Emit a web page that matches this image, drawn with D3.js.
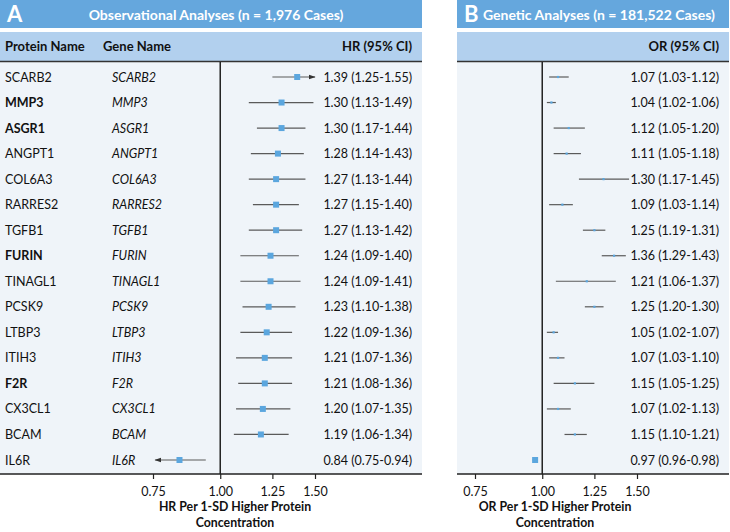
<!DOCTYPE html>
<html><head><meta charset="utf-8">
<script src="https://cdn.jsdelivr.net/npm/d3@7"></script>
<style>
html,body{margin:0;padding:0;background:#fff;}
svg{display:block;font-family:Lato,"Noto Sans",sans-serif;}
</style></head>
<body><svg id="c" width="730" height="532"></svg>
<script>
const proteins = ["SCARB2","MMP3","ASGR1","ANGPT1","COL6A3","RARRES2","TGFB1","FURIN","TINAGL1","PCSK9","LTBP3","ITIH3","F2R","CX3CL1","BCAM","IL6R"];
const genes = ["SCARB2","MMP3","ASGR1","ANGPT1","COL6A3","RARRES2","TGFB1","FURIN","TINAGL1","PCSK9","LTBP3","ITIH3","F2R","CX3CL1","BCAM","IL6R"];
const boldProteins = ["MMP3","ASGR1","FURIN","F2R"];
const hr = [1.39,1.30,1.30,1.28,1.27,1.27,1.27,1.24,1.24,1.23,1.22,1.21,1.21,1.20,1.19,0.84];
const hrLow = [1.25,1.13,1.17,1.14,1.13,1.15,1.13,1.09,1.09,1.10,1.09,1.07,1.08,1.07,1.06,0.75];
const hrHigh = [1.55,1.49,1.44,1.43,1.44,1.40,1.42,1.40,1.41,1.38,1.36,1.36,1.36,1.35,1.34,0.94];
const or = [1.07,1.04,1.12,1.11,1.30,1.09,1.25,1.36,1.21,1.25,1.05,1.07,1.15,1.07,1.15,0.97];
const orLow = [1.03,1.02,1.05,1.05,1.17,1.03,1.19,1.29,1.06,1.20,1.02,1.03,1.05,1.02,1.10,0.96];
const orHigh = [1.12,1.06,1.20,1.18,1.45,1.14,1.31,1.43,1.37,1.30,1.07,1.10,1.25,1.13,1.21,0.98];
const tickValues = [0.75,1.00,1.25,1.50];

const svg = d3.select("#c");
const fmt = d3.format(".2f");
const C = {title:"#65a7dd", sub:"#b2d0ee", body:"#eff4f9", mark:"#5ba6de", line:"#5a5a5a"};

svg.append("defs").append("marker").attr("id","arr").attr("viewBox","0 0 10 10")
  .attr("refX",9).attr("refY",5).attr("markerWidth",7).attr("markerHeight",7)
  .attr("orient","auto-start-reverse").attr("markerUnits","userSpaceOnUse")
  .append("path").attr("d","M0,1.5L10,5L0,8.5Z").attr("fill","#333");

const y = d3.scalePoint().domain(proteins).range([77,460]);
const clipLo = 0.757, clipHi = 1.5;

function panel(opt){
  const g = svg.append("g");
  const x = d3.scaleLog().domain([0.75,1.5]).range([opt.x0, opt.x0+162]);
  g.append("rect").attr("x",opt.left).attr("y",0).attr("width",opt.right-opt.left).attr("height",28).attr("fill",C.title);
  g.append("text").attr("x",opt.left+7).attr("y",22).attr("fill","#fff").attr("font-size",22).attr("font-weight",700).text(opt.letter);
  g.append("text").attr("x",opt.titleX).attr("y",19.5).attr("fill","#fff").attr("font-size",14).attr("font-weight",700).attr("text-anchor",opt.titleAnchor).text(opt.title);
  g.append("rect").attr("x",opt.left).attr("y",32).attr("width",opt.right-opt.left).attr("height",29).attr("fill",C.sub);
  g.append("rect").attr("x",opt.left).attr("y",62).attr("width",opt.right-opt.left).attr("height",412).attr("fill",C.body);
  g.append("line").attr("x1",opt.left).attr("x2",opt.right).attr("y1",61.5).attr("y2",61.5).attr("stroke","#333").attr("stroke-width",1.5);
  g.append("text").attr("x",opt.right-10).attr("y",51).attr("font-size",13).attr("font-weight",700).attr("text-anchor","end").attr("fill","#111").text(opt.ciHead);
  if(opt.showNames){
    g.append("text").attr("x",5).attr("y",51).attr("font-size",13).attr("font-weight",700).attr("fill","#111").text("Protein Name");
    g.append("text").attr("x",103).attr("y",51).attr("font-size",13).attr("font-weight",700).attr("fill","#111").text("Gene Name");
    g.selectAll(".pn").data(proteins).join("text").attr("x",5).attr("y",d=>y(d)+4.5)
      .attr("font-size",12.5).attr("fill","#111").attr("font-weight",d=>boldProteins.includes(d)?700:400).text(d=>d);
    g.selectAll(".gn").data(genes).join("text").attr("x",112).attr("y",(d,i)=>y(proteins[i])+4.5)
      .attr("font-size",12.5).attr("fill","#111").attr("font-style","italic").text(d=>d);
  }
  g.append("line").attr("x1",x(1)).attr("x2",x(1)).attr("y1",62).attr("y2",474).attr("stroke","#222").attr("stroke-width",1.5);
  const ax = g.append("g").attr("transform","translate(0,474)")
    .call(d3.axisBottom(x).tickValues(tickValues).tickFormat(fmt).tickSize(5).tickSizeOuter(0));
  ax.select(".domain").remove();
  ax.selectAll(".tick line").attr("stroke","#222").attr("stroke-width",1.2);
  ax.selectAll(".tick text").attr("font-size",12.5).attr("fill","#111").attr("y",21.5).attr("dy","0").attr("font-family","Lato,'Noto Sans',sans-serif");
  g.append("line").attr("x1",opt.left).attr("x2",opt.right).attr("y1",474).attr("y2",474).attr("stroke","#222").attr("stroke-width",1.5);
  const tt = g.append("text").attr("x",opt.axTitleX).attr("y",511).attr("font-size",12.3).attr("font-weight",700).attr("text-anchor","middle").attr("fill","#111");
  tt.append("tspan").attr("x",opt.axTitleX).text(opt.axTitle);
  tt.append("tspan").attr("x",opt.axTitleX).attr("dy",16).text("Concentration");
  const est = opt.est, lo = opt.lo, hi = opt.hi;
  proteins.forEach((p,i)=>{
    const l = Math.max(lo[i],clipLo), h = Math.min(hi[i],clipHi);
    const ln = g.append("line").attr("x1",x(l)).attr("x2",x(h)).attr("y1",y(p)).attr("y2",y(p))
      .attr("stroke",C.line).attr("stroke-width",1.2);
    if(lo[i]<clipLo) ln.attr("marker-start","url(#arr)");
    if(hi[i]>clipHi) ln.attr("marker-end","url(#arr)");
    const s = opt.size(i);
    g.append("rect").attr("x",x(est[i])-s/2).attr("y",y(p)-s/2).attr("width",s).attr("height",s).attr("fill",C.mark);
    g.append("text").attr("x",opt.right-10).attr("y",y(p)+4.5).attr("font-size",12.5).attr("text-anchor","end").attr("fill","#111")
      .text(`${fmt(est[i])} (${fmt(lo[i])}-${fmt(hi[i])})`);
  });
}

panel({left:0,right:422,x0:153,letter:"A",title:"Observational Analyses (n = 1,976 Cases)",titleX:216,titleAnchor:"middle",
  ciHead:"HR (95% CI)",showNames:true,axTitle:"HR Per 1-SD Higher Protein",axTitleX:235,est:hr,lo:hrLow,hi:hrHigh,size:i=>6});
panel({left:457,right:729,x0:475,letter:"B",title:"Genetic Analyses (n = 181,522 Cases)",titleX:483,titleAnchor:"start",
  ciHead:"OR (95% CI)",showNames:false,axTitle:"OR Per 1-SD Higher Protein",axTitleX:555,est:or,lo:orLow,hi:orHigh,size:i=>or[i]<1?6:2.2});
</script></body></html>
